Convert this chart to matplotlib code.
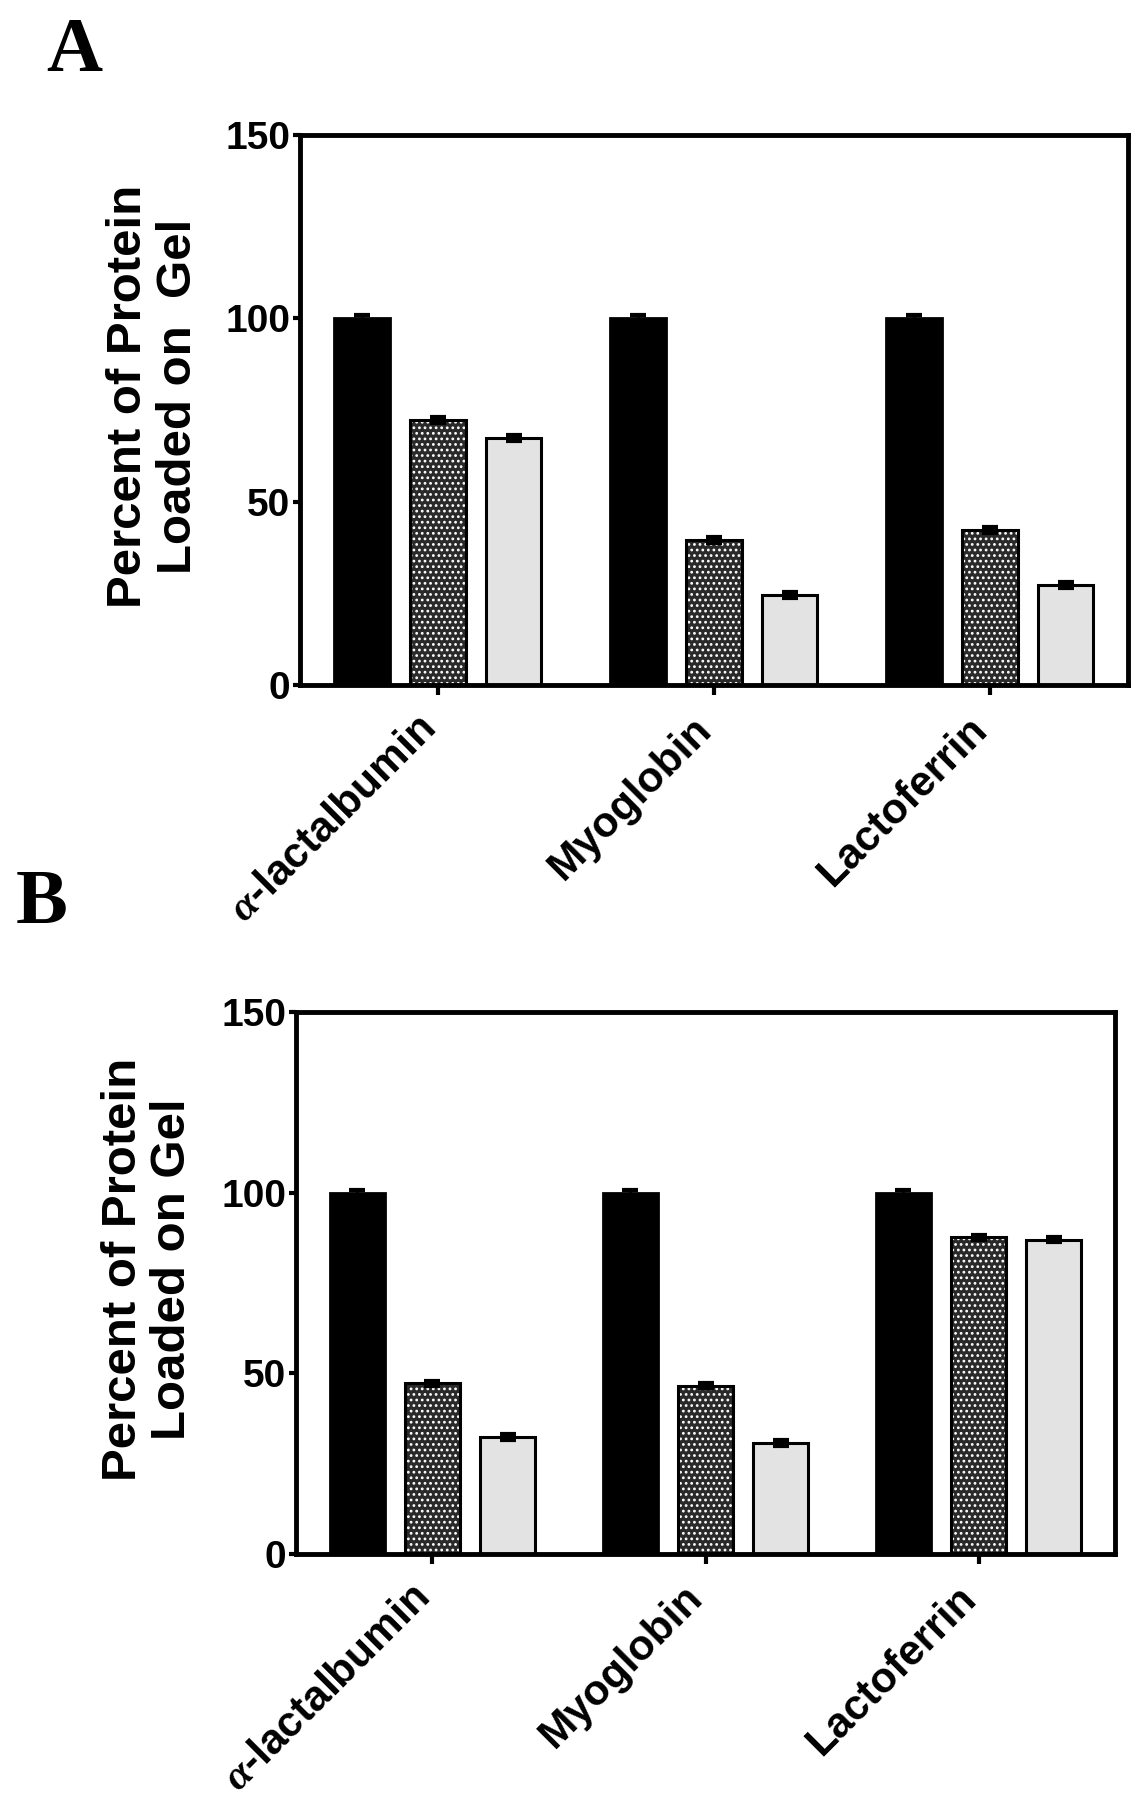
import matplotlib
matplotlib.use("Agg")
import matplotlib.pyplot as plt
import numpy as np

plt.rcParams["font.family"] = ["Liberation Sans", "DejaVu Sans"]
plt.rcParams["font.weight"] = "bold"
plt.rcParams["hatch.linewidth"] = 1.2
# the alpha in the first label is set in a serif face, as in the original
plt.rcParams["mathtext.fontset"] = "custom"
plt.rcParams["mathtext.it"] = "Liberation Serif:italic"
plt.rcParams["mathtext.rm"] = "Liberation Serif"

proteins = [r"$\alpha$-lactalbumin", "Myoglobin", "Lactoferrin"]

# three treatments per protein: black, dense dots, light stipple
a_black = [100, 100, 100]
a_dots = [72.3, 39.5, 42.2]
a_light = [67.3, 24.5, 27.3]
a_err = [0.8, 0.8, 0.8]

b_black = [100, 100, 100]
b_dots = [47.2, 46.6, 87.6]
b_light = [32.4, 30.7, 87.0]
b_err = [0.8, 0.8, 0.8]

yticks = [0, 50, 100, 150]


def draw_panel(ax, black, dots, light, err, ylabel, label_x):
    x = np.arange(len(proteins))
    w = 0.2
    step = 0.275

    ax.bar(x - step, black, w, color="black", edgecolor="black", linewidth=2, zorder=2)
    # dotted bars: dark fill with white dots, then a black outline on top
    ax.bar(x, dots, w, color="#2a2a2a", edgecolor="white", hatch="...", linewidth=0, zorder=2)
    ax.bar(x, dots, w, fill=False, edgecolor="black", linewidth=2.2, zorder=3)
    ax.bar(x + step, light, w, color="#e3e3e3", edgecolor="black", linewidth=2.2, zorder=2)

    for xs, vals in ((x - step, black), (x, dots), (x + step, light)):
        ax.errorbar(xs, vals, yerr=err, fmt="none", ecolor="black",
                    capsize=6, capthick=3, elinewidth=2, zorder=4)

    ax.set_xlim(-0.5, 2.5)
    ax.set_ylim(0, 150)
    ax.set_yticks(yticks)
    ax.tick_params(axis="y", labelsize=28, length=5, width=3, pad=2)
    ax.tick_params(axis="x", length=7, width=3, pad=4)
    ax.set_xticks(x)
    ax.set_xticklabels(proteins, rotation=45, ha="right", va="center",
                       rotation_mode="anchor", fontsize=30.5, fontweight="bold")
    shift = matplotlib.transforms.ScaledTranslation(-0.09, -0.23, ax.figure.dpi_scale_trans)
    for lab in ax.get_xticklabels():
        lab.set_transform(lab.get_transform() + shift)

    for s in ax.spines.values():
        s.set_linewidth(3.5)

    ax.set_ylabel(ylabel, fontsize=35.5, fontweight="bold", linespacing=1.12)
    ax.yaxis.set_label_coords(label_x, 0.525)


fig = plt.figure(figsize=(11.44, 18), dpi=100)

ax_a = fig.add_axes([0.2622, 0.6194, 0.7238, 0.3056])
draw_panel(ax_a, a_black, a_dots, a_light, a_err,
           "Percent of Protein\nLoaded on  Gel", -0.12)

ax_b = fig.add_axes([0.2587, 0.1367, 0.716, 0.3011])
draw_panel(ax_b, b_black, b_dots, b_light, b_err,
           "Percent of Protein\nLoaded on Gel", -0.123)

fig.text(0.040, 0.9906, "A", family="Liberation Serif", fontsize=56,
         fontweight="bold", va="top")
fig.text(0.014, 0.5172, "B", family="Liberation Serif", fontsize=56,
         fontweight="bold", va="top")

fig.savefig("out.png", dpi=100, facecolor="white")
